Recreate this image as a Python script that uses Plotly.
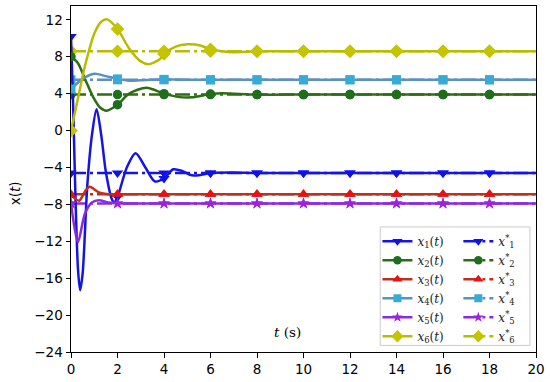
import plotly.graph_objects as go

# ---------------- data ----------------
t1 = [0, 0.1, 0.2, 0.3, 0.39, 0.5, 0.7, 0.9, 1.1, 1.3, 1.5, 1.75, 1.85, 2, 2.4, 2.78, 3.2, 3.6, 4, 4.4, 4.8, 5.2, 5.6, 6, 7, 8, 10, 12, 14, 16, 18, 20]
x1 = [10.2, 2.0, -8.0, -15.0, -17.3, -15.5, -6.0, -0.5, 2.3, -0.5, -4.5, -7.4, -7.8, -7.2, -4.0, -2.45, -4.0, -5.5, -5.2, -4.2, -4.4, -4.85, -4.8, -4.6, -4.55, -4.6, -4.6, -4.6, -4.6, -4.6, -4.6, -4.6]

t2 = [0, 0.3, 0.6, 0.96, 1.25, 1.53, 2, 2.5, 3.25, 4, 4.6, 5.2, 6, 6.5, 7, 8, 10, 12, 14, 16, 18, 20]
x2 = [8.0, 7.3, 5.6, 3.6, 2.5, 2.16, 2.8, 4.0, 4.65, 4.0, 3.65, 3.6, 3.95, 4.05, 4.0, 3.9, 3.9, 3.9, 3.9, 3.9, 3.9, 3.9]

t3 = [0, 0.35, 0.6, 0.8, 1.2, 1.6, 2, 4, 6, 8, 10, 12, 14, 16, 18, 20]
x3 = [-7.0, -7.6, -6.6, -6.1, -6.7, -6.9, -6.9, -6.9, -6.9, -6.9, -6.9, -6.9, -6.9, -6.9, -6.9, -6.9]

t4 = [0, 0.5, 1.0, 1.5, 2, 2.5, 3, 4, 5, 6, 8, 10, 12, 14, 16, 18, 20]
x4 = [4.5, 5.6, 6.15, 5.9, 5.6, 5.4, 5.45, 5.55, 5.5, 5.5, 5.5, 5.5, 5.5, 5.5, 5.5, 5.5, 5.5]

t5 = [0, 0.15, 0.3, 0.6, 0.9, 1.2, 1.6, 2, 4, 6, 8, 10, 12, 14, 16, 18, 20]
x5 = [-7.9, -10.5, -12.1, -9.0, -7.8, -7.55, -7.8, -7.9, -7.9, -7.9, -7.9, -7.9, -7.9, -7.9, -7.9, -7.9, -7.9]

t6 = [0, 0.3, 0.6, 1.0, 1.3, 1.55, 2, 2.5, 3.0, 3.35, 3.8, 4, 4.5, 5, 5.6, 6, 6.5, 7, 8, 10, 12, 14, 16, 18, 20]
x6 = [0.0, 3.5, 7.0, 10.5, 11.8, 12.05, 11.0, 8.9, 7.5, 7.2, 7.7, 8.3, 9.1, 9.35, 9.2, 8.8, 8.6, 8.5, 8.6, 8.6, 8.6, 8.6, 8.6, 8.6, 8.6]

x_star = [-4.6, 3.9, -6.9, 5.5, -7.9, 8.6]

x_ticks = [0, 2, 4, 6, 8, 10, 12, 14, 16, 18, 20]
y_ticks = [-24, -20, -16, -12, -8, -4, 0, 4, 8, 12]

labels_t = ["<i>x</i><sub>%d</sub>(<i>t</i>)" % i for i in range(1, 7)]
labels_s = ["<i>x</i><sup>*</sup><sub>%d</sub>" % i for i in range(1, 7)]

# ---------------- style ----------------
line_cols = ["#1414e6", "#2c6e12", "#c0301a", "#5a90c2", "#8a2be2", "#b8bc00"]
mark_cols = ["#1010ee", "#1e6e1e", "#e81010", "#38aad6", "#a020e0", "#c4c400"]
symbols = ["triangle-down", "circle", "triangle-up", "square", "star", "diamond"]
msize = [10, 9.5, 10, 9, 9, 10.5]
LW = 2.5
DASHDOT = "15px,4px,3px,4px"

curves = [(t1, x1), (t2, x2), (t3, x3), (t4, x4), (t5, x5), (t6, x6)]
mark_t = [0, 2, 4, 6, 8, 10, 12, 14, 16, 18]

fig = go.Figure()

for i, (tt, xx) in enumerate(curves):
    # steady state dash-dot line
    fig.add_trace(go.Scatter(x=[0, 20], y=[x_star[i], x_star[i]], mode="lines",
                             line=dict(color=line_cols[i], width=LW, dash=DASHDOT),
                             showlegend=False, hoverinfo="skip"))
    fig.add_trace(go.Scatter(x=mark_t, y=[x_star[i]] * len(mark_t), mode="markers",
                             marker=dict(color=mark_cols[i], symbol=symbols[i], size=msize[i]),
                             showlegend=False, hoverinfo="skip"))

for i, (tt, xx) in enumerate(curves):
    fig.add_trace(go.Scatter(x=tt, y=xx, mode="lines", line=dict(color=line_cols[i], width=LW, shape="spline", smoothing=0.8),
                             showlegend=False))
    mt = [a for a in tt if a in mark_t]
    my = [b for a, b in zip(tt, xx) if a in mark_t]
    fig.add_trace(go.Scatter(x=mt, y=my, mode="markers",
                             marker=dict(color=mark_cols[i], symbol=symbols[i], size=msize[i]),
                             showlegend=False))

# legend entries
for i in range(6):
    fig.add_trace(go.Scatter(x=[None], y=[None], mode="lines+markers", name=labels_t[i],
                             line=dict(color=line_cols[i], width=LW),
                             marker=dict(color=mark_cols[i], symbol=symbols[i], size=msize[i] - 1),
                             legend="legend"))
for i in range(6):
    fig.add_trace(go.Scatter(x=[None], y=[None], mode="lines+markers", name=labels_s[i],
                             line=dict(color=line_cols[i], width=LW, dash=DASHDOT),
                             marker=dict(color=mark_cols[i], symbol=symbols[i], size=msize[i] - 1),
                             legend="legend2"))

legend_font = dict(family="DejaVu Serif", size=12, color="#222")
fig.update_layout(
    width=550, height=382,
    margin=dict(l=71, r=13, t=5, b=29),
    paper_bgcolor="white", plot_bgcolor="white",
    font=dict(family="DejaVu Sans", size=13.5, color="black"),
    showlegend=True,
    legend=dict(x=0.659, y=0.362, xanchor="left", yanchor="top", bgcolor="rgba(0,0,0,0)",
                font=legend_font, tracegroupgap=0),
    legend2=dict(x=0.833, y=0.362, xanchor="left", yanchor="top", bgcolor="rgba(0,0,0,0)",
                 font=legend_font, tracegroupgap=0),
    xaxis=dict(range=[0, 20], tickvals=x_ticks, ticks="outside", ticklen=4.5, tickwidth=1,
               tickcolor="black", showline=True, linecolor="black", linewidth=1, mirror=True,
               showgrid=False, zeroline=False),
    yaxis=dict(range=[-24, 13.5], tickvals=y_ticks, ticks="outside", ticklen=4.5, tickwidth=1,
               tickcolor="black", showline=True, linecolor="black", linewidth=1, mirror=True,
               showgrid=False, zeroline=False),
    shapes=[dict(type="rect", xref="paper", yref="paper", x0=0.665, x1=0.987, y0=0.019, y1=0.3615,
                 line=dict(color="#cccccc", width=1), fillcolor="rgba(255,255,255,0.85)", layer="above")],
    annotations=[
        dict(text="x(<i>t</i>)", xref="paper", yref="paper", x=(15 - 71) / 466, y=0.459,
             xanchor="center", yanchor="middle",
             textangle=-90, showarrow=False, font=dict(family="DejaVu Sans", size=13.5)),
        dict(text="<i>t</i> (s)", xref="paper", yref="paper", x=0.466, y=0.057,
             xanchor="center", yanchor="middle",
             showarrow=False, font=dict(family="DejaVu Serif", size=13.5)),
    ],
)

fig.write_html("out.html", config={"displayModeBar": False},
               post_script="document.body.style.margin='0';document.body.style.padding='0';")
